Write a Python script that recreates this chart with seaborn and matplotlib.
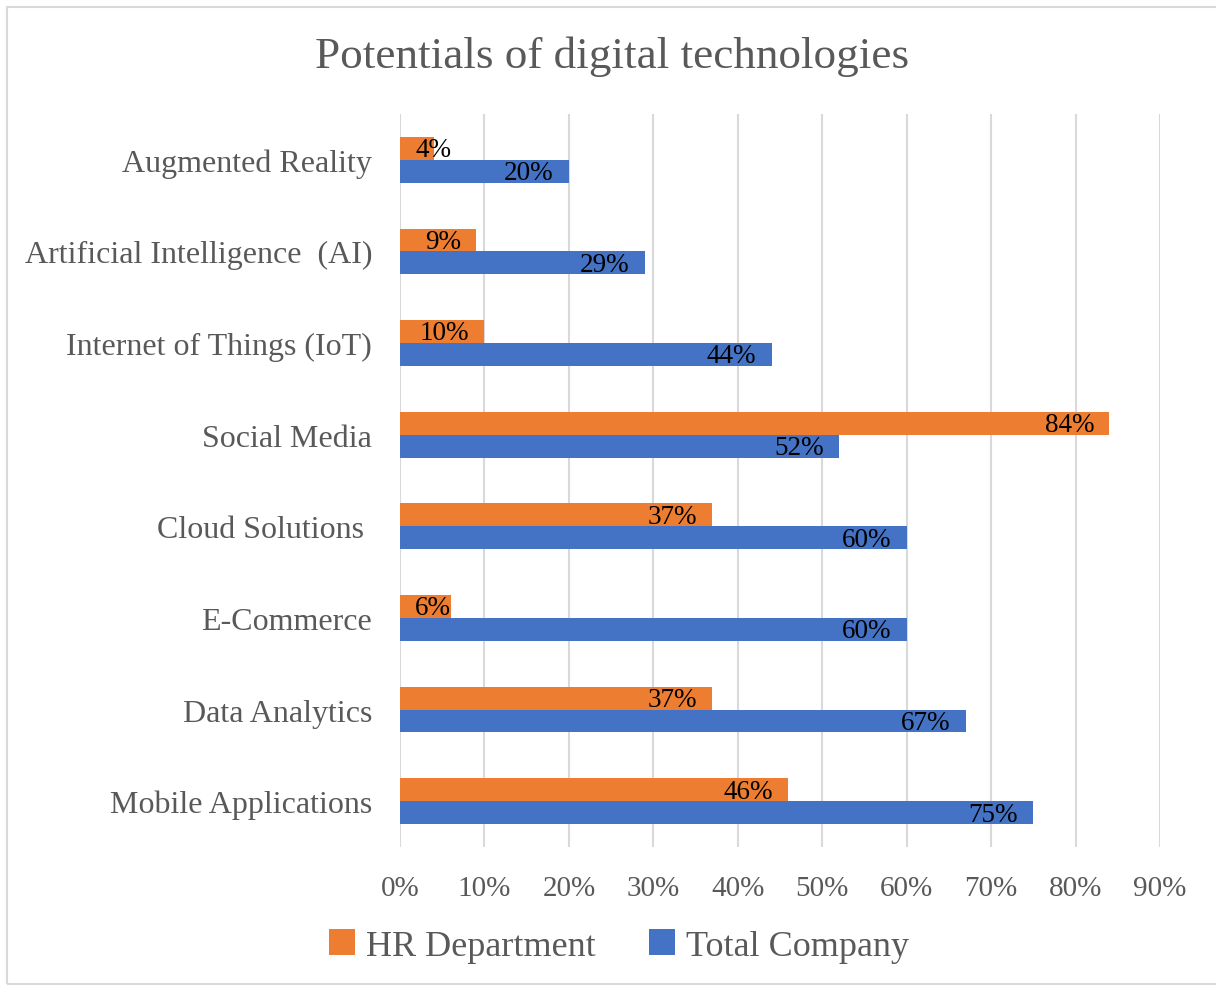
import matplotlib
matplotlib.use("Agg")
import matplotlib.pyplot as plt
from matplotlib.patches import Rectangle, Patch
import seaborn as sns
import pandas as pd

categories = [
    "Augmented Reality",
    "Artificial Intelligence  (AI)",
    "Internet of Things (IoT)",
    "Social Media",
    "Cloud Solutions ",
    "E-Commerce",
    "Data Analytics",
    "Mobile Applications",
]
hr_department = [4, 9, 10, 84, 37, 6, 37, 46]
total_company = [20, 29, 44, 52, 60, 60, 67, 75]
series_names = ["HR Department", "Total Company"]
x_ticks = [0, 10, 20, 30, 40, 50, 60, 70, 80, 90]
title = "Potentials of digital technologies"

colors = ["#ED7D31", "#4472C4"]
gray_text = "#595959"

df = pd.DataFrame({
    "category": categories * 2,
    "series": [series_names[0]] * len(categories) + [series_names[1]] * len(categories),
    "value": hr_department + total_company,
})

sns.set_theme(style="white")
plt.rcParams["font.family"] = ["Liberation Serif", "DejaVu Serif"]

fig = plt.figure(figsize=(12.16, 9.87), dpi=100)
ax = fig.add_axes([400 / 1216, 1 - 848 / 987, 760 / 1216, 733 / 987])

sns.barplot(
    data=df, y="category", x="value", hue="series",
    order=categories, hue_order=series_names,
    palette=colors, width=0.5, gap=0, dodge=True,
    orient="h", ax=ax, legend=False, saturation=1,
    err_kws={"linewidth": 0}, linewidth=0,
)

ax.set_xlim(0, 90)
ax.set_xticks(x_ticks)
ax.set_xticklabels([f"{t}%" for t in x_ticks])
ax.set_xlabel("")
ax.set_ylabel("")
ax.grid(axis="x", color="#D9D9D9", linewidth=1.5)
ax.grid(axis="y", visible=False)
ax.set_axisbelow(True)
for s in ax.spines.values():
    s.set_visible(False)
ax.tick_params(axis="x", length=0, pad=20, labelsize=21, labelcolor=gray_text)
ax.tick_params(axis="y", length=0, pad=20, labelsize=23, labelcolor=gray_text)

# value labels just inside the end of each bar
for container in ax.containers:
    for bar in container:
        v = bar.get_width()
        yc = bar.get_y() + bar.get_height() / 2
        label = f"{v:.0f}%"
        if v >= 8:
            ax.annotate(label, (v, yc), xytext=(-11, -1), textcoords="offset points",
                        ha="right", va="center", fontsize=19.5, color="black")
        else:
            ax.annotate(label, (0, yc), xytext=(11, -1), textcoords="offset points",
                        ha="left", va="center", fontsize=19.5, color="black")

fig.text(612 / 1216, 1 - 57 / 987, title, ha="center", va="center",
         fontsize=32.5, color=gray_text)

handles = [Patch(facecolor=c, edgecolor="none") for c in colors]
fig.legend(handles, series_names, loc="center", bbox_to_anchor=(619 / 1216, 1 - 947 / 987),
           ncol=2, frameon=False, fontsize=26, labelcolor=gray_text,
           handlelength=0.7, handleheight=0.7, handletextpad=0.3, columnspacing=1.5)

fig.add_artist(Rectangle((7 / 1216, 2 / 987), 1.2, 1 - 10 / 987, transform=fig.transFigure,
                         fill=False, edgecolor="#D9D9D9", linewidth=1.5))

fig.savefig("out.png", dpi=100)
